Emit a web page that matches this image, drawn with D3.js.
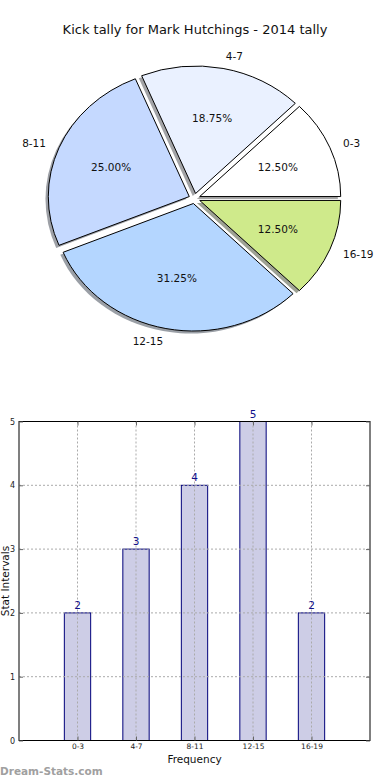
<!DOCTYPE html>
<html>
<head>
<meta charset="utf-8">
<script src="https://cdn.jsdelivr.net/npm/d3@7"></script>
<style>
  html, body { margin: 0; padding: 0; background: #fff; }
  svg { display: block; font-family: "DejaVu Sans", sans-serif; }
</style>
</head>
<body>
<svg id="chart" width="390" height="780"></svg>
<script>
const categories = ['0-3', '4-7', '8-11', '12-15', '16-19']
const counts = [2, 3, 4, 5, 2]
const pieColors = ['#ffffff', '#eaf1ff', '#c5d9ff', '#b4d6ff', '#cfea8b']
const yTicks = [0, 1, 2, 3, 4, 5]

const svg = d3.select('#chart')

// ---- pie ----
const cx = 194.5, cy = 198.5
const rx = 141, ry = 127.5
const sy = ry / rx
const explode = 0.04 * rx

svg.append('text')
    .attr('x', 195)
    .attr('y', 34)
    .attr('text-anchor', 'middle')
    .attr('font-size', 13)
    .attr('fill', '#111')
    .text('Kick tally for Mark Hutchings - 2014 tally')

const total = d3.sum(counts)
const pie = d3.pie().sort(null)
    .startAngle(Math.PI / 2)
    .endAngle(Math.PI / 2 - 2 * Math.PI)
const slices = pie(counts)
const arc = d3.arc().innerRadius(0).outerRadius(rx)

// direction of a slice's middle, in screen coords (unit circle)
const mid = (d) => {
    const a = (d.startAngle + d.endAngle) / 2 - Math.PI / 2
    return [Math.cos(a), Math.sin(a)]
}

const pieG = svg.append('g')
    .attr('transform', `translate(${cx}, ${cy}) scale(1, ${sy})`)

// shadows under everything
pieG.selectAll('path.shadow')
    .data(slices)
    .enter()
    .append('path')
    .attr('class', 'shadow')
    .attr('d', arc)
    .attr('transform', (d) => {
        const [ux, uy] = mid(d)
        return `translate(${ux * explode - 0.02 * rx}, ${uy * explode + 0.02 * rx})`
    })
    .attr('fill', (d, i) => {
        const c = d3.rgb(pieColors[i])
        return d3.rgb(c.r * 0.3, c.g * 0.3, c.b * 0.3)
    })
    .attr('fill-opacity', 0.5)

pieG.selectAll('path.wedge')
    .data(slices)
    .enter()
    .append('path')
    .attr('class', 'wedge')
    .attr('d', arc)
    .attr('transform', (d) => {
        const [ux, uy] = mid(d)
        return `translate(${ux * explode}, ${uy * explode})`
    })
    .attr('fill', (d, i) => pieColors[i])
    .attr('stroke', '#000')
    .attr('stroke-width', 1)
    .attr('vector-effect', 'non-scaling-stroke')

const labelAt = (d, dist) => {
    const [ux, uy] = mid(d)
    return [cx + ux * (explode + dist * rx), cy + uy * (explode + dist * rx) * sy]
}

svg.append('g').selectAll('text')
    .data(slices)
    .enter()
    .append('text')
    .attr('x', (d) => labelAt(d, 1.1)[0])
    .attr('y', (d) => labelAt(d, 1.1)[1])
    .attr('dy', '0.35em')
    .attr('text-anchor', (d) => mid(d)[0] > 0 ? 'start' : 'end')
    .attr('font-size', 10.5)
    .attr('fill', '#111')
    .text((d, i) => categories[i])

svg.append('g').selectAll('text')
    .data(slices)
    .enter()
    .append('text')
    .attr('x', (d) => labelAt(d, 0.6)[0])
    .attr('y', (d) => labelAt(d, 0.6)[1])
    .attr('dy', '0.35em')
    .attr('text-anchor', 'middle')
    .attr('font-size', 10.5)
    .attr('fill', '#111')
    .text((d) => (d.value / total * 100).toFixed(2) + '%')

// ---- bars ----
const plotL = 19, plotR = 370, plotT = 421.5, plotB = 740.5

const x = d3.scalePoint().domain(categories).range([plotL, plotR]).padding(1)
const y = d3.scaleLinear().domain([0, 5]).range([plotB, plotT])
const barW = 0.45 * x.step()

svg.append('g').selectAll('rect')
    .data(counts)
    .enter()
    .append('rect')
    .attr('x', (d, i) => x(categories[i]) - barW / 2)
    .attr('y', (d) => y(d))
    .attr('width', barW)
    .attr('height', (d) => y(0) - y(d))
    .attr('fill', '#cdcde6')
    .attr('stroke', '#00007a')
    .attr('stroke-width', 1)

// grid over bars
const grid = svg.append('g')
    .attr('stroke', '#aaa')
    .attr('stroke-dasharray', '2,2')
    .attr('stroke-width', 1)
grid.selectAll('line.h')
    .data(yTicks)
    .enter()
    .append('line')
    .attr('x1', plotL).attr('x2', plotR)
    .attr('y1', (d) => y(d)).attr('y2', (d) => y(d))
grid.selectAll('line.v')
    .data(categories)
    .enter()
    .append('line')
    .attr('x1', (d) => x(d)).attr('x2', (d) => x(d))
    .attr('y1', plotT).attr('y2', plotB)

// frame
svg.append('rect')
    .attr('x', plotL).attr('y', plotT)
    .attr('width', plotR - plotL).attr('height', plotB - plotT)
    .attr('fill', 'none')
    .attr('stroke', '#000')

// inward ticks on all sides
const yAxisL = d3.axisLeft(y).tickValues(yTicks).tickSize(-4).tickPadding(4).tickFormat(d3.format('d'))
const yAxisR = d3.axisRight(y).tickValues(yTicks).tickSize(-4).tickFormat('')
const xAxisB = d3.axisBottom(x).tickSize(-4).tickPadding(3)
const xAxisT = d3.axisTop(x).tickSize(-4).tickFormat('')

const styleAxis = (g, fs) => {
    g.select('.domain').remove()
    g.selectAll('.tick line').attr('stroke', '#666')
    g.selectAll('.tick text').attr('font-size', fs).attr('fill', '#222')
        .attr('font-family', '"DejaVu Sans", sans-serif')
}

svg.append('g').attr('transform', `translate(${plotL}, 0)`).call(yAxisL).call((g) => styleAxis(g, 8))
svg.append('g').attr('transform', `translate(${plotR}, 0)`).call(yAxisR).call((g) => styleAxis(g, 8))
svg.append('g').attr('transform', `translate(0, ${plotB})`).call(xAxisB).call((g) => styleAxis(g, 7.5))
svg.append('g').attr('transform', `translate(0, ${plotT})`).call(xAxisT).call((g) => styleAxis(g, 7.5))

// value labels
svg.append('g').selectAll('text')
    .data(counts)
    .enter()
    .append('text')
    .attr('x', (d, i) => x(categories[i]))
    .attr('y', (d) => y(d) - 4)
    .attr('text-anchor', 'middle')
    .attr('font-size', 10.5)
    .attr('fill', '#10108a')
    .text((d) => d)

svg.append('text')
    .attr('x', (plotL + plotR) / 2)
    .attr('y', 763)
    .attr('text-anchor', 'middle')
    .attr('font-size', 10.5)
    .attr('fill', '#111')
    .text('Frequency')

svg.append('text')
    .attr('transform', `translate(9, ${(plotT + plotB) / 2}) rotate(-90)`)
    .attr('text-anchor', 'middle')
    .attr('font-size', 10.5)
    .attr('fill', '#111')
    .text('Stat Intervals')

svg.append('text')
    .attr('x', 0)
    .attr('y', 775)
    .attr('font-size', 10.5)
    .attr('font-weight', 'bold')
    .attr('fill', '#a0a0a0')
    .text('Dream-Stats.com')
</script>
</body>
</html>
